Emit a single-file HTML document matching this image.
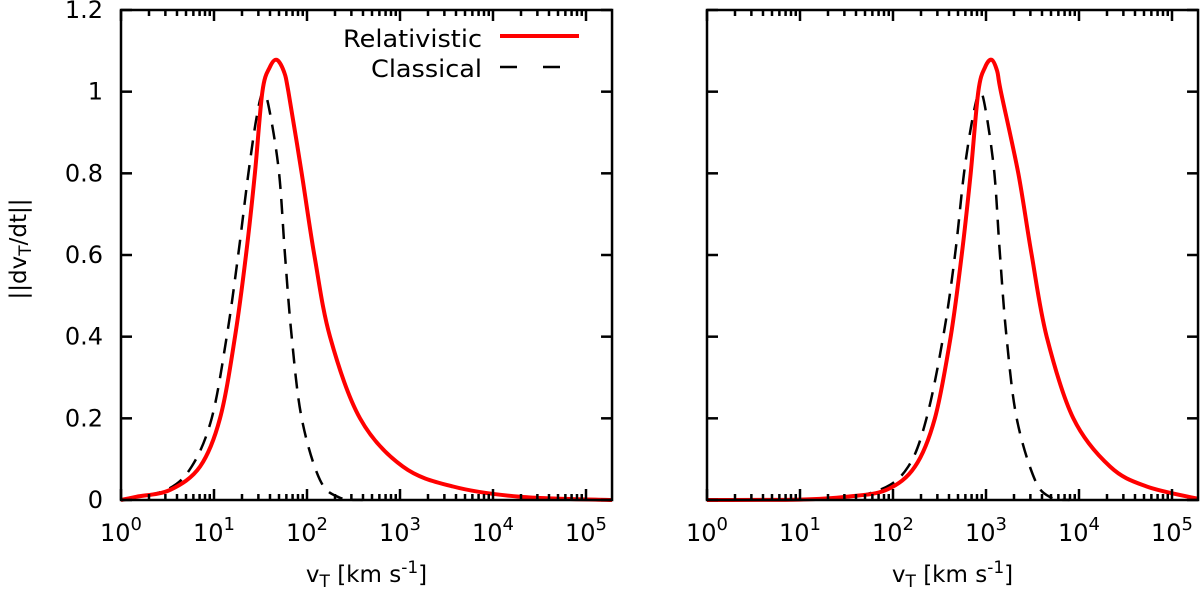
<!DOCTYPE html>
<html><head><meta charset="utf-8"><style>
html,body{margin:0;padding:0;background:#fff;}
svg text{font-family:"DejaVu Sans","Liberation Sans",sans-serif;fill:#000;}
</style></head><body>
<svg id="chart" width="1200" height="592" xmlns="http://www.w3.org/2000/svg"></svg>
<script>
const xTickExps=[0,1,2,3,4,5];
const yTicks=[0,0.2,0.4,0.6,0.8,1,1.2];
const yTickLabels=["0","0.2","0.4","0.6","0.8","1","1.2"];
const leftRelLogV=[0,0.17,0.53,0.85,1.065,1.226,1.344,1.44,1.52,1.6,1.674,1.75,1.80,1.943,2.079,2.247,2.57,3.03,3.57,4.29,5.28];
const leftRelVal=[0,0.008,0.025,0.082,0.2,0.4,0.6,0.8,1.0,1.06,1.078,1.05,1.0,0.8,0.6,0.4,0.2,0.082,0.033,0.008,0];
const leftClaLogV=[0,0.49,0.76,0.975,1.137,1.26,1.37,1.46,1.53,1.6,1.70,1.763,1.835,1.943,2.14,2.35,2.6];
const leftClaVal=[0,0.025,0.082,0.2,0.4,0.6,0.8,0.94,1.0,0.95,0.8,0.6,0.4,0.2,0.049,0.006,0];
const rightRelLogV=[0,1.0,1.5,1.93,2.237,2.45,2.62,2.739,2.835,2.917,2.99,3.061,3.12,3.16,3.347,3.491,3.653,3.939,4.333,4.728,5.30];
const rightRelVal=[0,0.001,0.008,0.025,0.082,0.2,0.4,0.6,0.8,1.0,1.06,1.078,1.05,1.0,0.8,0.6,0.4,0.2,0.082,0.033,0.003];
const rightClaLogV=[0,1.3,1.86,2.165,2.36,2.54,2.667,2.763,2.86,2.935,3.0,3.09,3.15,3.22,3.33,3.527,3.7,3.9];
const rightClaVal=[0,0.003,0.025,0.082,0.2,0.4,0.6,0.8,0.94,1.0,0.95,0.8,0.6,0.4,0.2,0.049,0.006,0];
const NS="http://www.w3.org/2000/svg";
const svg=document.getElementById('chart');
function mk(tag,attrs,parent){const e=document.createElementNS(NS,tag);for(const k in attrs)e.setAttribute(k,attrs[k]);(parent||svg).appendChild(e);return e;}
const plotTop=10,plotBot=500,dec=93,xmax=5.28;
function yS(v){return plotBot-(v/1.2)*(plotBot-plotTop);}
function smooth(p){
  let d='M'+p[0][0].toFixed(1)+','+p[0][1].toFixed(1);
  for(let i=0;i<p.length-1;i++){
    const p0=p[i-1]||p[i],p1=p[i],p2=p[i+1],p3=p[i+2]||p2;
    const c1=[p1[0]+(p2[0]-p0[0])/6,p1[1]+(p2[1]-p0[1])/6];
    const c2=[p2[0]-(p3[0]-p1[0])/6,p2[1]-(p3[1]-p1[1])/6];
    d+=' C'+c1.map(v=>v.toFixed(1)).join(',')+' '+c2.map(v=>v.toFixed(1)).join(',')+' '+p2[0].toFixed(1)+','+p2[1].toFixed(1);
  }
  return d;
}
function panel(x0,name,relX,relY,claX,claY,showY){
  const g=mk('g',{});
  
  
  const x1=x0+dec*xmax;
  const xS=l=>x0+l*dec;
  const pts=(xs,ys)=>xs.map((l,i)=>[Math.min(xS(l),x1),yS(ys[i])]);
  const cla=mk('path',{d:smooth(pts(claX,claY)),fill:'none',stroke:'#000','stroke-width':2.5,'stroke-dasharray':'15,10'},g);
  
  
  const rel=mk('path',{d:smooth(pts(relX,relY)),fill:'none',stroke:'#f00','stroke-width':4,'stroke-linejoin':'round'},g);
  
  
  const fr=mk('rect',{x:x0,y:plotTop,width:x1-x0,height:plotBot-plotTop,fill:'none',stroke:'#000','stroke-width':2.5},g);
  
  
  for(let d=0;d<=5;d++){
    for(let m=1;m<10;m++){
      const l=d+Math.log10(m); if(l>xmax)break;
      const len=m===1?11:6, x=xS(l);
      mk('line',{x1:x,y1:plotBot,x2:x,y2:plotBot-len,stroke:'#000','stroke-width':2.5},g);
      mk('line',{x1:x,y1:plotTop,x2:x,y2:plotTop+len,stroke:'#000','stroke-width':2.5},g);
    }
  }
  xTickExps.forEach(e=>{
    const t=mk('text',{x:xS(e),y:541,'font-size':24,'text-anchor':'middle'},g);
    
    
    t.appendChild(document.createTextNode('10'));
    const sp=mk('tspan',{'font-size':18,dy:-11},t);
    sp.textContent=String(e);
  });
  yTicks.forEach((v,i)=>{
    const y=yS(v);
    mk('line',{x1:x0,y1:y,x2:x0+11,y2:y,stroke:'#000','stroke-width':2.5},g);
    mk('line',{x1:x1,y1:y,x2:x1-11,y2:y,stroke:'#000','stroke-width':2.5},g);
    if(showY){
      const t=mk('text',{x:x0-18,y:y+8,'font-size':24,'text-anchor':'end'},g);
      
      
      t.textContent=yTickLabels[i];
    }
  });
  const xl=mk('text',{x:(x0+x1)/2,y:582,'font-size':23,'text-anchor':'middle'},g);
  
  
  xl.appendChild(document.createTextNode('v'));
  mk('tspan',{'font-size':17,dy:5},xl).textContent='T';
  mk('tspan',{dy:-5},xl).textContent=' [km s';
  mk('tspan',{'font-size':17,dy:-9},xl).textContent='-1';
  mk('tspan',{dy:9},xl).textContent=']';
}
panel(121,'left-panel',leftRelLogV,leftRelVal,leftClaLogV,leftClaVal,true);
panel(707,'right-panel',rightRelLogV,rightRelVal,rightClaLogV,rightClaVal,false);
const yl=mk('text',{x:0,y:0,'font-size':23,'text-anchor':'middle',transform:'translate(26,249) rotate(-90)'});


yl.appendChild(document.createTextNode('||dv'));
mk('tspan',{'font-size':17,dy:5},yl).textContent='T';
mk('tspan',{dy:-5},yl).textContent='/dt||';
const lg=mk('g',{});


const t1=mk('text',{x:343,y:47,'font-size':24,textLength:139,lengthAdjust:'spacingAndGlyphs'},lg);


t1.textContent='Relativistic';
const l1=mk('line',{x1:500,y1:36,x2:579,y2:36,stroke:'#f00','stroke-width':4},lg);


const t2=mk('text',{x:371,y:77,'font-size':24,textLength:111,lengthAdjust:'spacingAndGlyphs'},lg);


t2.textContent='Classical';
const l2=mk('line',{x1:500,y1:67,x2:579,y2:67,stroke:'#000','stroke-width':2.5,'stroke-dasharray':'17,26'},lg);


</script>
</body></html>
